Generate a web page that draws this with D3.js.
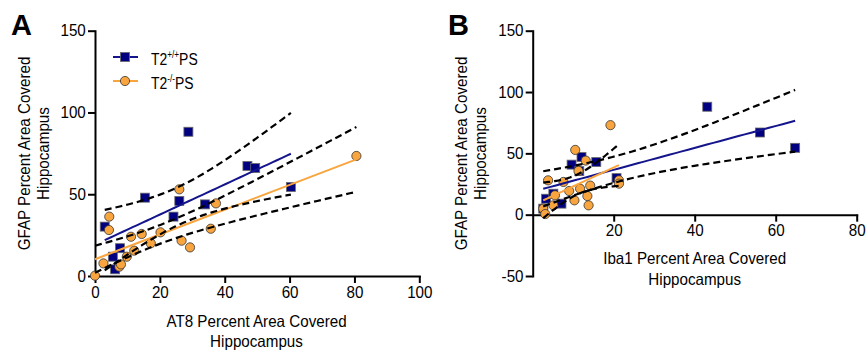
<!DOCTYPE html>
<html>
<head>
<meta charset="utf-8">
<script src="https://cdn.jsdelivr.net/npm/d3@7"></script>
<style>
  body { margin: 0; background: #fff; }
  text { font-family: "Liberation Sans", Arial, Helvetica, sans-serif; fill: #000; }
</style>
</head>
<body>
<svg id="chart" width="868" height="356"></svg>
<script>
// Panel A: AT8 vs GFAP (percent area covered, hippocampus)
const at8WT   = [3.0, 5.5, 6.2, 7.7, 15.4, 24.2, 26.0, 28.8, 33.9, 47.0, 49.4, 60.4]
const gfapWTa = [30.2, 11.8, 4.1, 17.0, 47.9, 36.3, 45.9, 88.2, 43.8, 67.3, 66.0, 54.4]
const at8KO   = [0, 2.6, 4.4, 4.3, 7.5, 8.0, 9.8, 11.1, 12.1, 14.4, 17.2, 20.2, 26.0, 26.7, 29.3, 35.7, 37.3, 80.6]
const gfapKOa = [0.2, 7.7, 36.3, 28.1, 5.7, 7.1, 11.8, 24.0, 15.5, 25.7, 20.0, 26.7, 53.0, 21.6, 17.5, 28.9, 44.4, 73.4]

// Panel B: Iba1 vs GFAP
const iba1WT  = [2.6, 3.3, 5.1, 7.1, 9.6, 11.5, 12.05, 15.7, 20.7, 43.1, 56.1, 64.8]
const gfapWTb = [4.9, 13.0, 17.1, 9.0, 40.8, 35.5, 47.0, 42.9, 29.8, 88.0, 67.0, 54.5]
const iba1KO  = [19.2, 10.5, 13.1, 11.3, 3.8, 7.6, 14.2, 9.0, 11.7, 5.5, 10.3, 13.5, 13.8, 5.1, 2.6, 3.1, 21.3, 21.3]
const gfapKOb = [73.0, 52.8, 44.1, 35.7, 28.0, 26.7, 23.7, 19.3, 21.2, 15.8, 11.7, 15.2, 7.6, 7.6, 4.9, 0.5, 28.0, 25.3]

const xTicksA = [0, 20, 40, 60, 80, 100]
const yTicksA = [0, 50, 100, 150]
const xTicksB = [20, 40, 60, 80]
const yTicksB = [-50, 0, 50, 100, 150]

const groups = ['T2+/+PS', 'T2-/-PS']

const NAVY = '#000080'
const BLUE_LINE = '#14148c'
const ORANGE = '#f9a53f'

// two-sided 95% t critical values
const T95 = [NaN, 12.706, 4.303, 3.182, 2.776, 2.571, 2.447, 2.365, 2.306, 2.262, 2.228,
  2.201, 2.179, 2.160, 2.145, 2.131, 2.120, 2.110, 2.101, 2.093, 2.086]

// linear fit with 95% confidence band of the line
function fit(xs, ys) {
  const n = xs.length
  const mx = d3.mean(xs), my = d3.mean(ys)
  let sxx = 0, sxy = 0
  xs.forEach((x, i) => { sxx += (x - mx) ** 2; sxy += (x - mx) * (ys[i] - my) })
  const b = sxy / sxx, a = my - b * mx
  const sse = d3.sum(xs, (x, i) => (ys[i] - a - b * x) ** 2)
  const s = Math.sqrt(sse / (n - 2)), t = T95[n - 2]
  const [x0, x1] = d3.extent(xs)
  return d3.range(0, 41).map(i => {
    const x = x0 + (x1 - x0) * i / 40
    const y = a + b * x
    const se = s * Math.sqrt(1 / n + (x - mx) ** 2 / sxx)
    return { x, y, lo: y - t * se, hi: y + t * se }
  })
}

const svg = d3.select('#chart')

function label(g, x, y, txt, opts = {}) {
  const sx = opts.sx || 0.92
  const rot = opts.rotate ? ` rotate(${opts.rotate})` : ''
  return g.append('text')
    .attr('transform', `translate(${x},${y})${rot} scale(${sx},1)`)
    .attr('text-anchor', opts.anchor || 'middle')
    .attr('font-size', opts.size || 16.5)
    .attr('font-weight', opts.weight || 'normal')
    .text(txt)
}

function styleAxis(sel) {
  sel.select('.domain').attr('stroke', '#000').attr('stroke-width', 2).attr('stroke-linecap', 'square')
  sel.selectAll('.tick line').attr('stroke', '#000').attr('stroke-width', 2)
  sel.selectAll('.tick text')
    .attr('font-size', 16.5)
    .attr('font-family', '"Liberation Sans", Arial, sans-serif')
    .attr('transform', 'scale(0.92,1)')
}

const plainNum = d => String(d)

function drawPanel(cfg) {
  const g = svg.append('g')
  const x = d3.scaleLinear().domain(cfg.xDomain).range(cfg.xRange)
  const y = d3.scaleLinear().domain(cfg.yDomain).range(cfg.yRange)

  const xAxis = d3.axisBottom(x).tickValues(cfg.xTicks).tickSize(7).tickPadding(3).tickSizeOuter(0).tickFormat(plainNum)
  const yAxis = d3.axisLeft(y).tickValues(cfg.yTicks).tickSize(7).tickPadding(3).tickSizeOuter(0).tickFormat(plainNum)

  g.append('g').attr('transform', `translate(0,${y(0)})`).call(xAxis).call(styleAxis)
  g.append('g').attr('transform', `translate(${cfg.xRange[0]},0)`).call(yAxis).call(styleAxis)

  const wt = cfg.wtX.map((v, i) => ({ x: v, y: cfg.wtY[i] }))
  const ko = cfg.koX.map((v, i) => ({ x: v, y: cfg.koY[i] }))

  g.append('g').selectAll('rect').data(wt).join('rect')
    .attr('x', d => x(d.x) - 4.5).attr('y', d => y(d.y) - 4.5)
    .attr('width', 9).attr('height', 9)
    .attr('fill', NAVY).attr('stroke', '#6a6a6a').attr('stroke-width', 0.8)

  g.append('g').selectAll('circle').data(ko).join('circle')
    .attr('cx', d => x(d.x)).attr('cy', d => y(d.y)).attr('r', 4.6)
    .attr('fill', ORANGE).attr('stroke', '#333').attr('stroke-width', 0.8)

  const lines = [
    { band: fit(cfg.wtX, cfg.wtY), color: BLUE_LINE },
    { band: fit(cfg.koX, cfg.koY), color: ORANGE }
  ]
  lines.forEach(l => {
    g.append('path').datum(l.band)
      .attr('fill', 'none').attr('stroke', l.color).attr('stroke-width', 2)
      .attr('d', d3.line().x(d => x(d.x)).y(d => y(d.y)))
  })
  lines.forEach(l => {
    ['lo', 'hi'].forEach(k => {
      g.append('path').datum(l.band)
        .attr('fill', 'none').attr('stroke', '#000').attr('stroke-width', 2.2)
        .attr('stroke-dasharray', '7,4')
        .attr('d', d3.line().x(d => x(d.x)).y(d => y(d[k])))
    })
  })

  // titles
  label(g, cfg.letterX, 35, cfg.letter, { size: 29, weight: 'bold', anchor: 'start', sx: 1 })
  label(g, cfg.xTitleX, cfg.xTitleY, cfg.xTitle)
  label(g, cfg.xTitleX, cfg.xTitleY + 20.5, 'Hippocampus')
  label(g, cfg.yTitleX, 153.5, 'GFAP Percent Area Covered', { rotate: -90 })
  label(g, cfg.yTitleX + 19, 153.5, 'Hippocampus', { rotate: -90 })
  return g
}

const panelA = drawPanel({
  letter: 'A', letterX: 11,
  xDomain: [0, 100], xRange: [95, 419.3], yDomain: [0, 150], yRange: [276, 30.7],
  xTicks: xTicksA, yTicks: yTicksA,
  wtX: at8WT, wtY: gfapWTa, koX: at8KO, koY: gfapKOa,
  xTitle: 'AT8 Percent Area Covered', xTitleX: 256.5, xTitleY: 326.5, yTitleX: 30
})

drawPanel({
  letter: 'B', letterX: 448,
  xDomain: [0, 80], xRange: [532.7, 856.7], yDomain: [-50, 150], yRange: [276, 30.7],
  xTicks: xTicksB, yTicks: yTicksB,
  wtX: iba1WT, wtY: gfapWTb, koX: iba1KO, koY: gfapKOb,
  xTitle: 'Iba1 Percent Area Covered', xTitleX: 694.7, xTitleY: 264, yTitleX: 467
})

// legend (panel A)
const legend = panelA.append('g')
groups.forEach((name, i) => {
  const ly = 57 + i * 24
  const row = legend.append('g')
  row.append('line').attr('x1', 113).attr('x2', 138).attr('y1', ly).attr('y2', ly)
    .attr('stroke', i === 0 ? BLUE_LINE : ORANGE).attr('stroke-width', 2)
  if (i === 0) {
    row.append('rect').attr('x', 125 - 4.5).attr('y', ly - 4.5).attr('width', 9).attr('height', 9)
      .attr('fill', NAVY).attr('stroke', '#6a6a6a').attr('stroke-width', 0.8)
  } else {
    row.append('circle').attr('cx', 125).attr('cy', ly).attr('r', 4.6)
      .attr('fill', ORANGE).attr('stroke', '#333').attr('stroke-width', 0.8)
  }
  const m = name.match(/^(T2)(.+)(PS)$/)
  const t = row.append('text')
    .attr('transform', `translate(151,${ly + 7.5}) scale(0.82,1)`)
    .attr('font-size', 17)
  t.append('tspan').text(m[1])
  t.append('tspan').attr('font-size', 10).attr('dy', -7).text(m[2])
  t.append('tspan').attr('dy', 7).text(m[3])
})
</script>
</body>
</html>
